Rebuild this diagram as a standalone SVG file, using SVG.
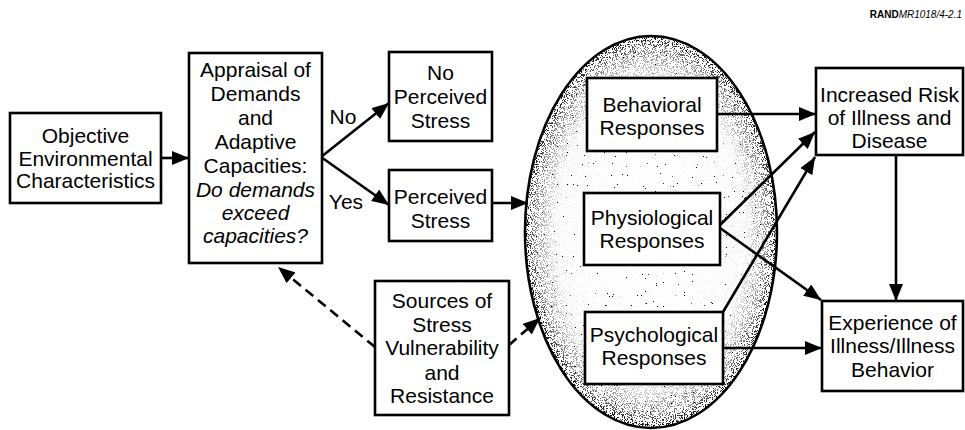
<svg xmlns="http://www.w3.org/2000/svg" width="965" height="430" viewBox="0 0 965 430">
<style>
.box{fill:#fff;stroke:#000;stroke-width:2.6}
.t{font-family:"Liberation Sans",Arial,sans-serif;font-size:21px;fill:#000;text-anchor:middle}
.i{font-style:italic}
.c{stroke:#000;stroke-width:2.6;fill:none;marker-end:url(#ah)}
.d{stroke-dasharray:10 6}
</style>
<defs>
<marker id="ah" markerUnits="userSpaceOnUse" markerWidth="18" markerHeight="14" refX="17" refY="7" orient="auto">
<path d="M0,0 L17,7 L0,14 z" fill="#000"/>
</marker>
<radialGradient id="eg" cx="0.5" cy="0.5" r="0.5">
<stop offset="0" stop-color="#000" stop-opacity="0"/>
<stop offset="0.75" stop-color="#000" stop-opacity="0.05"/>
<stop offset="0.92" stop-color="#000" stop-opacity="0.5"/>
<stop offset="1" stop-color="#000" stop-opacity="1"/>
</radialGradient>
<filter id="sparse" x="0" y="0" width="100%" height="100%">
<feTurbulence type="fractalNoise" baseFrequency="0.9" numOctaves="2" seed="7" result="n"/>
<feColorMatrix in="n" type="matrix" values="0 0 0 0 0  0 0 0 0 0  0 0 0 0 0  -50 0 0 0 11.6" result="dots"/>
<feComposite in="dots" in2="SourceGraphic" operator="in"/>
</filter>
<filter id="dense" x="0" y="0" width="100%" height="100%">
<feTurbulence type="fractalNoise" baseFrequency="1.1" numOctaves="2" seed="3" result="n"/>
<feColorMatrix in="n" type="matrix" values="0 0 0 0 0  0 0 0 0 0  0 0 0 0 0  -40 0 0 0 18" result="dots"/>
<feComposite in="dots" in2="SourceGraphic" operator="in"/>
</filter>
</defs>
<rect width="965" height="430" fill="#fff"/>
<text x="962" y="18" style="font-family:'Liberation Sans',Arial,sans-serif;font-size:10px;text-anchor:end"><tspan font-weight="bold">RAND</tspan><tspan font-style="italic">MR1018/4-2.1</tspan></text>

<g id="ellipse">
<ellipse cx="651" cy="232" rx="126" ry="196" fill="#fff"/>
<ellipse cx="651" cy="232" rx="126" ry="196" fill="#000" filter="url(#sparse)"/>
<ellipse cx="651" cy="232" rx="126" ry="196" fill="url(#eg)" filter="url(#dense)"/>
<ellipse cx="651" cy="232" rx="126" ry="196" fill="none" stroke="#000" stroke-width="2.6"/>
</g>

<g id="connectors">
<line class="c" x1="162" y1="158" x2="189" y2="158"/>
<line class="c" x1="321" y1="157" x2="389" y2="103"/>
<line class="c" x1="321" y1="157" x2="389" y2="205"/>
<line class="c" x1="492" y1="203" x2="528" y2="203"/>
<line class="c d" x1="375" y1="347" x2="278" y2="267"/>
<line class="c d" x1="509" y1="345" x2="540" y2="318"/>
<line class="c" x1="717" y1="114" x2="816" y2="114"/>
<line class="c" x1="720" y1="225" x2="815" y2="132"/>
<line class="c" x1="723" y1="312" x2="815" y2="157"/>
<line class="c" x1="720" y1="228" x2="821" y2="300"/>
<line class="c" x1="723" y1="348" x2="822" y2="348"/>
<line class="c" x1="896" y1="155" x2="896" y2="301"/>
<text class="t" x="343" y="124">No</text>
<text class="t" x="346" y="209">Yes</text>
</g>

<g id="objective">
<rect class="box" x="10" y="113" width="151" height="90"/>
<text class="t" x="85.5" y="143">Objective</text>
<text class="t" x="85.5" y="165.5">Environmental</text>
<text class="t" x="85.5" y="188">Characteristics</text>
</g>

<g id="appraisal">
<rect class="box" x="189" y="53" width="133" height="210"/>
<text class="t" x="255.5" y="77">Appraisal of</text>
<text class="t" x="255.5" y="101">Demands</text>
<text class="t" x="255.5" y="125">and</text>
<text class="t" x="255.5" y="149">Adaptive</text>
<text class="t" x="255.5" y="173">Capacities:</text>
<text class="t i" x="255.5" y="197">Do demands</text>
<text class="t i" x="255.5" y="220">exceed</text>
<text class="t i" x="255.5" y="243">capacities?</text>
</g>

<g id="noStress">
<rect class="box" x="389" y="52" width="103" height="89"/>
<text class="t" x="440.5" y="80">No</text>
<text class="t" x="440.5" y="104">Perceived</text>
<text class="t" x="440.5" y="128">Stress</text>
</g>

<g id="perceived">
<rect class="box" x="389" y="170" width="103" height="71"/>
<text class="t" x="440.5" y="204">Perceived</text>
<text class="t" x="440.5" y="228">Stress</text>
</g>

<g id="sources">
<rect class="box" x="375" y="281" width="134" height="134"/>
<text class="t" x="442" y="308">Sources of</text>
<text class="t" x="442" y="332">Stress</text>
<text class="t" x="442" y="355">Vulnerability</text>
<text class="t" x="442" y="380">and</text>
<text class="t" x="442" y="403">Resistance</text>
</g>

<g id="behavioral">
<rect class="box" x="587" y="78" width="130" height="73"/>
<text class="t" x="652" y="112">Behavioral</text>
<text class="t" x="652" y="135">Responses</text>
</g>

<g id="physiological">
<rect class="box" x="584" y="193" width="136" height="72"/>
<text class="t" x="652" y="225">Physiological</text>
<text class="t" x="652" y="248">Responses</text>
</g>

<g id="psychological">
<rect class="box" x="585" y="312" width="138" height="72"/>
<text class="t" x="654" y="342">Psychological</text>
<text class="t" x="654" y="365">Responses</text>
</g>

<g id="risk">
<rect class="box" x="816" y="68" width="147" height="87"/>
<text class="t" x="889.5" y="102">Increased Risk</text>
<text class="t" x="889.5" y="125">of Illness and</text>
<text class="t" x="889.5" y="148">Disease</text>
</g>

<g id="experience">
<rect class="box" x="822" y="301" width="141" height="90"/>
<text class="t" x="892.5" y="330">Experience of</text>
<text class="t" x="892.5" y="353">Illness/Illness</text>
<text class="t" x="892.5" y="377">Behavior</text>
</g>
</svg>
